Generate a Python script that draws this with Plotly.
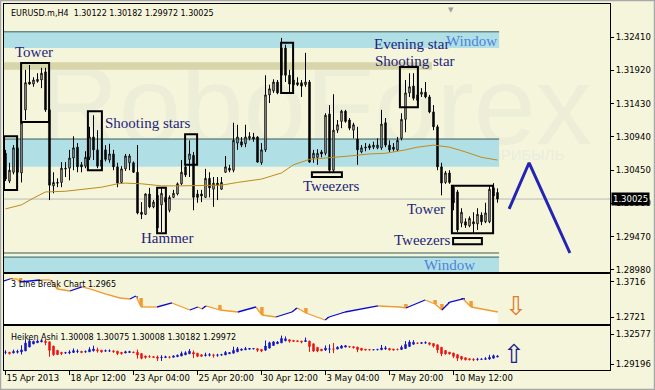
import plotly.graph_objects as go

# ---------------- data ----------------
bar_open = [1.3070, 1.3029, 1.3042, 1.3078, 1.3041, 1.3134, 1.3175, 1.3172, 1.3176, 1.3178,
            1.3190, 1.3134, 1.3022, 1.3027, 1.3027, 1.3048, 1.3048, 1.3063, 1.3079, 1.3053,
            1.3051, 1.3064, 1.3094, 1.3075, 1.3051, 1.3075, 1.3060, 1.3069, 1.3050, 1.3027,
            1.3047, 1.3056, 1.3056, 1.3042, 1.2983, 1.2980, 1.3010, 1.2991, 1.3008, 1.2994,
            1.3005, 1.2986, 1.3005, 1.3010, 1.3025, 1.3050, 1.3061, 1.3067, 1.3010, 1.3010,
            1.3005, 1.3033, 1.3017, 1.3026, 1.3017, 1.3042, 1.3048, 1.3045, 1.3085, 1.3087,
            1.3084, 1.3092, 1.3094, 1.3094, 1.3056, 1.3075, 1.3156, 1.3162, 1.3175, 1.3185,
            1.3225, 1.3185, 1.3178, 1.3174, 1.3174, 1.3171, 1.3175, 1.3063, 1.3064, 1.3072,
            1.3070, 1.3128, 1.3045, 1.3104, 1.3117, 1.3132, 1.3119, 1.3104, 1.3091, 1.3072,
            1.3079, 1.3081, 1.3079, 1.3078, 1.3078, 1.3115, 1.3082, 1.3079, 1.3075, 1.3092,
            1.3120, 1.3159, 1.3169, 1.3156, 1.3157, 1.3160, 1.3153, 1.3131, 1.3109, 1.3050,
            1.3027, 1.3041, 1.3020, 1.3013, 1.2967, 1.2969, 1.2963, 1.2969, 1.2966, 1.2979,
            1.2969, 1.2969, 1.3019, 1.30122]
bar_high = [1.3075, 1.3056, 1.3082, 1.3081, 1.3131, 1.3193, 1.3200, 1.3182, 1.3188, 1.3196,
            1.3196, 1.3137, 1.3042, 1.3033, 1.3057, 1.3057, 1.3075, 1.3095, 1.3085, 1.3057,
            1.3073, 1.3109, 1.3126, 1.3104, 1.3067, 1.3082, 1.3084, 1.3075, 1.3056, 1.3051,
            1.3069, 1.3069, 1.3058, 1.3082, 1.2998, 1.3011, 1.3019, 1.3001, 1.3016, 1.3019,
            1.3013, 1.3008, 1.3016, 1.3027, 1.3060, 1.3063, 1.3089, 1.3072, 1.3016, 1.3016,
            1.3047, 1.3042, 1.3035, 1.3035, 1.3035, 1.3066, 1.3053, 1.3115, 1.3112, 1.3094,
            1.3112, 1.3101, 1.3100, 1.3095, 1.3085, 1.3185, 1.3171, 1.3179, 1.3178, 1.3240,
            1.3230, 1.3193, 1.3188, 1.3182, 1.3178, 1.3218, 1.3178, 1.3075, 1.3076, 1.3075,
            1.3129, 1.3141, 1.3157, 1.3119, 1.3134, 1.3134, 1.3122, 1.3115, 1.3109, 1.3082,
            1.3085, 1.3084, 1.3087, 1.3092, 1.3134, 1.3122, 1.3089, 1.3085, 1.3094, 1.3129,
            1.3178, 1.3188, 1.3188, 1.3163, 1.3166, 1.3175, 1.3156, 1.3141, 1.3112, 1.3056,
            1.3044, 1.3045, 1.3023, 1.3016, 1.2989, 1.2974, 1.2977, 1.2983, 1.2989, 1.2983,
            1.2997, 1.3023, 1.3026, 1.30182]
bar_low = [1.3029, 1.3026, 1.3039, 1.3038, 1.3027, 1.3119, 1.3171, 1.3168, 1.3174, 1.3166,
           1.3131, 1.3001, 1.3011, 1.3020, 1.3020, 1.3035, 1.3030, 1.3045, 1.3042, 1.3042,
           1.3048, 1.3060, 1.3060, 1.3048, 1.3048, 1.3058, 1.3056, 1.3045, 1.3020, 1.3025,
           1.3044, 1.3045, 1.3041, 1.2980, 1.2973, 1.2979, 1.2989, 1.2989, 1.2954, 1.2954,
           1.2986, 1.2983, 1.3004, 1.3008, 1.3023, 1.3035, 1.3035, 1.2986, 1.2997, 1.2998,
           1.3004, 1.3005, 1.2991, 1.3001, 1.3016, 1.3041, 1.3042, 1.3042, 1.3075, 1.3079,
           1.3079, 1.3089, 1.3087, 1.3056, 1.3053, 1.3072, 1.3144, 1.3159, 1.3157, 1.3181,
           1.3175, 1.3160, 1.3168, 1.3169, 1.3153, 1.3168, 1.3056, 1.3056, 1.3053, 1.3064,
           1.3067, 1.3042, 1.3042, 1.3100, 1.3107, 1.3115, 1.3104, 1.3092, 1.3053, 1.3070,
           1.3073, 1.3075, 1.3076, 1.3076, 1.3075, 1.3079, 1.3072, 1.3073, 1.3073, 1.3089,
           1.3101, 1.3153, 1.3148, 1.3145, 1.3153, 1.3151, 1.3129, 1.3104, 1.3045, 1.3008,
           1.3025, 1.3025, 1.2986, 1.2954, 1.2961, 1.2960, 1.2961, 1.2952, 1.2957, 1.2964,
           1.2967, 1.2967, 1.3001, 1.29972]
bar_close = [1.3032, 1.3045, 1.3078, 1.3042, 1.3115, 1.3174, 1.3172, 1.3178, 1.3179, 1.3188,
             1.3134, 1.3023, 1.3027, 1.3026, 1.3048, 1.3047, 1.3063, 1.3078, 1.3050, 1.3050,
             1.3064, 1.3094, 1.3075, 1.3051, 1.3060, 1.3061, 1.3069, 1.3050, 1.3026, 1.3047,
             1.3066, 1.3066, 1.3042, 1.2982, 1.2980, 1.3010, 1.2991, 1.2998, 1.2960, 1.3011,
             1.2998, 1.3005, 1.3011, 1.3025, 1.3042, 1.3038, 1.3069, 1.3005, 1.3005, 1.3007,
             1.3033, 1.3019, 1.3026, 1.3023, 1.3027, 1.3050, 1.3045, 1.3089, 1.3094, 1.3082,
             1.3094, 1.3095, 1.3091, 1.3057, 1.3075, 1.3156, 1.3165, 1.3175, 1.3159, 1.3225,
             1.3185, 1.3172, 1.3171, 1.3171, 1.3169, 1.3175, 1.3057, 1.3070, 1.3070, 1.3069,
             1.3126, 1.3045, 1.3104, 1.3112, 1.3132, 1.3117, 1.3107, 1.3112, 1.3075, 1.3078,
             1.3078, 1.3078, 1.3082, 1.3082, 1.3113, 1.3082, 1.3075, 1.3076, 1.3089, 1.3120,
             1.3159, 1.3168, 1.3151, 1.3148, 1.3160, 1.3153, 1.3131, 1.3109, 1.3050, 1.3026,
             1.3041, 1.3027, 1.2997, 1.2957, 1.2983, 1.2964, 1.2974, 1.2966, 1.2980, 1.2969,
             1.2982, 1.3017, 1.3007, 1.30025]
bars = list(range(len(bar_open)))

# moving average (orange line)
ma_bar = [0, 4, 7, 10, 15, 20, 24, 28, 30, 34, 39, 44, 49, 54, 58, 64, 69, 72, 76, 81,
          86, 91, 95, 100, 103, 107, 111, 115, 119, 123]
ma_val = [1.2988, 1.2994, 1.3004, 1.3013, 1.3014, 1.3017, 1.3020, 1.3025, 1.3026, 1.3025,
          1.3022, 1.3022, 1.3023, 1.3023, 1.3027, 1.3032, 1.3041, 1.3053, 1.3061, 1.3063,
          1.3066, 1.3069, 1.3070, 1.3075, 1.3079, 1.3082, 1.3079, 1.3072, 1.3064, 1.3060]

# 3 Line Break panel
lb_bar = [-0.4, 1.1, 2.9, 3.6, 6.1, 8.6, 11.1, 12.9, 16.1, 19.1, 21.1, 24.9, 28.6, 31.1,
          32.6, 33.9, 37.9, 41.6, 46.1, 48.1, 49.1, 50.1, 53.6, 58.1, 62.6, 64.1, 67.6,
          71.6, 72.9, 75.1, 79.9, 80.9, 84.9, 93.1, 98.6, 100.1, 104.9, 107.4, 109.1,
          111.1, 114.4, 116.4, 123.1]
lb_val = [1.3744, 1.3801, 1.3801, 1.3716, 1.3744, 1.3773, 1.3773, 1.3517, 1.3460, 1.3574,
          1.3517, 1.3375, 1.3261, 1.3233, 1.3318, 1.3005, 1.3005, 1.3119, 1.2920, 1.3005,
          1.2948, 1.3034, 1.2920, 1.2863, 1.3005, 1.2778, 1.2721, 1.2863, 1.2977, 1.2835,
          1.2636, 1.2721, 1.2863, 1.3034, 1.3005, 1.2977, 1.3204, 1.3091, 1.2920, 1.3147,
          1.3233, 1.3005, 1.2863]
brick_bar = [1.5, 3.8, 11.3, 12.8, 32.6, 33.9, 48.1, 50.1, 53.6, 64.1, 72.9, 75.1, 80.9,
             84.6, 100.1, 107.4, 109.1, 111.1, 114.4, 116.4]
brick_lo = [1.3744, 1.3716, 1.3716, 1.3489, 1.3233, 1.3005, 1.2948, 1.2977, 1.2920, 1.2778,
            1.2892, 1.2835, 1.2664, 1.2778, 1.2977, 1.3091, 1.2920, 1.2892, 1.3204, 1.3005]
brick_hi = [1.3830, 1.3830, 1.3773, 1.3574, 1.3318, 1.3261, 1.3005, 1.3034, 1.3062, 1.3005,
            1.2977, 1.2977, 1.2721, 1.2863, 1.3091, 1.3204, 1.3091, 1.3147, 1.3261, 1.3176]
brick_up = [1, 0, 1, 0, 1, 0, 1, 1, 0, 0, 1, 0, 1, 1, 0, 0, 0, 1, 1, 0]

# forecast zigzag
fc_bar = [125.9, 130.9, 141.1]
fc_val = [1.2988, 1.3056, 1.2923]

# levels / bands
window_top = (1.3225, 1.3249)
resist_band = (1.3050, 1.3091)
khaki_band = (1.3193, 1.3204)
window_low_line = 1.2923
window_low_band = (1.2895, 1.2917)
last_price = 1.30025

# pattern boxes (bar0, bar1, price0, price1)
pattern_boxes = [
    (-0.375, 2.9, 1.3016, 1.3095),
    (3.9, 10.9, 1.3116, 1.3203),
    (20.6, 24.1, 1.3045, 1.3132),
    (37.9, 40.1, 1.2952, 1.3019),
    (44.9, 47.9, 1.3053, 1.3098),
    (68.9, 71.9, 1.3159, 1.3233),
    (76.6, 84.1, 1.3035, 1.3042),
    (98.6, 103.1, 1.3138, 1.3197),
    (111.6, 121.9, 1.2952, 1.3022),
    (111.9, 119.1, 1.2936, 1.2945),
]
pattern_labels = [
    ("Tower", 1.9, 1.3219), ("Shooting stars", 24.4, 1.3115), ("Hammer", 33.4, 1.2945),
    ("Tweezers", 73.9, 1.3022), ("Evening star", 91.6, 1.3231), ("Shooting star", 91.9, 1.3206),
    ("Tower", 99.9, 1.2988), ("Tweezers", 96.6, 1.2942),
]
window_labels = [("Window", 109.6, 1.3235), ("Window", 104.1, 1.2905)]

tick_bars = [0, 16, 32, 48, 64, 80, 96, 112]
tick_labels = ["15 Apr 2013", "18 Apr 12:00", "23 Apr 04:00", "25 Apr 20:00",
               "30 Apr 12:00", "3 May 04:00", "7 May 20:00", "10 May 12:00"]
price_ticks = [1.28980, 1.29470, 1.29960, 1.30450, 1.30940, 1.31430, 1.31920, 1.32410]
lb_ticks = [1.2721, 1.3716]
ha_ticks = [1.29196, 1.32577]

title_main = "EURUSD.m,H4  1.30122 1.30182 1.29972 1.30025"
title_lb = "3 Line Break Chart 1.2965"
title_ha = "Heiken Ashi 1.30008 1.30075 1.30008 1.30182 1.29972"

# ---------------- heiken ashi from the candles ----------------
ha_close = [(o + h + l + c) / 4 for o, h, l, c in zip(bar_open, bar_high, bar_low, bar_close)]
ha_open = []
for i in range(len(bars)):
    if i == 0:
        ha_open.append((bar_open[0] + bar_close[0]) / 2)
    else:
        ha_open.append((ha_open[-1] + ha_close[i - 1]) / 2)
ha_high = [max(h, o, c) for h, o, c in zip(bar_high, ha_open, ha_close)]
ha_low = [min(l, o, c) for l, o, c in zip(bar_low, ha_open, ha_close)]

# ---------------- geometry ----------------
W, H = 655, 390
ML, MR, MT, MB = 4, 45, 4, 20
PW, PH = W - ML - MR, H - MT - MB
BOT = MT + PH


def py(p):  # pixel row -> paper y
    return (BOT - p) / PH


def px(p):  # pixel column -> paper x
    return (p - ML) / PW


X_RANGE = [-0.375, 151.125]
MAIN_R = [1.2895, 1.3290]
LB_R = [1.2522, 1.3943]
HA_R = [1.2852, 1.3348]

BG = "#F5F5DC"
AX_FONT = dict(family="DejaVu Sans", size=8.5, color="black")
TXT_FONT = dict(family="DejaVu Sans", size=8, color="black")
PAT_FONT = dict(family="Liberation Serif", size=15, color="#1F1F7A")
WIN_FONT = dict(family="Liberation Serif", size=15, color="#4F80D8")
BLUE_LB, ORANGE_LB = "#0A0ACC", "#F29A2E"

fig = go.Figure()

# main candles
fig.add_trace(go.Candlestick(
    x=bars, open=bar_open, high=bar_high, low=bar_low, close=bar_close,
    xaxis="x", yaxis="y", whiskerwidth=0,
    increasing=dict(line=dict(color="black", width=1), fillcolor="white"),
    decreasing=dict(line=dict(color="black", width=1), fillcolor="black"),
    hoverinfo="skip"))
fig.add_trace(go.Scatter(x=ma_bar, y=ma_val, mode="lines", xaxis="x", yaxis="y",
                         line=dict(color="#C08A1A", width=1), hoverinfo="skip"))
fig.add_trace(go.Scatter(x=fc_bar, y=fc_val, mode="lines", xaxis="x", yaxis="y",
                         line=dict(color="#2323B4", width=3), hoverinfo="skip"))

# line break panel
fig.add_trace(go.Scatter(x=lb_bar, y=lb_val, mode="lines", fill="tozeroy", fillcolor="white",
                         line=dict(width=0, color="white"), xaxis="x2", yaxis="y2", hoverinfo="skip"))
up_x, up_y, dn_x, dn_y = [], [], [], []
for i in range(1, len(lb_bar)):
    seg_x = [lb_bar[i - 1], lb_bar[i], None]
    seg_y = [lb_val[i - 1], lb_val[i], None]
    if lb_val[i] > lb_val[i - 1]:
        up_x += seg_x; up_y += seg_y
    else:
        dn_x += seg_x; dn_y += seg_y
fig.add_trace(go.Scatter(x=dn_x, y=dn_y, mode="lines", line=dict(color=ORANGE_LB, width=1.3),
                         xaxis="x2", yaxis="y2", hoverinfo="skip"))
fig.add_trace(go.Scatter(x=up_x, y=up_y, mode="lines", line=dict(color=BLUE_LB, width=1.3),
                         xaxis="x2", yaxis="y2", hoverinfo="skip"))
fig.add_trace(go.Bar(x=brick_bar, y=[h - l for h, l in zip(brick_hi, brick_lo)], base=brick_lo,
                     width=0.85, marker=dict(color=[BLUE_LB if u else ORANGE_LB for u in brick_up],
                                             line=dict(width=0)),
                     xaxis="x2", yaxis="y2", hoverinfo="skip"))

# heiken ashi panel
fig.add_trace(go.Candlestick(
    x=bars, open=ha_open, high=ha_high, low=ha_low, close=ha_close,
    xaxis="x3", yaxis="y3", whiskerwidth=0,
    increasing=dict(line=dict(color="#1414C8", width=1), fillcolor="#1414C8"),
    decreasing=dict(line=dict(color="#F01010", width=1), fillcolor="#F01010"),
    hoverinfo="skip"))

shapes = []
XE = 123.4
def band(y0, y1, x1, color):
    shapes.append(dict(type="rect", xref="x", yref="y", x0=X_RANGE[0], x1=x1, y0=y0, y1=y1,
                       fillcolor=color, line=dict(width=0), layer="below"))

def hline(y, x1, color, width=1):
    shapes.append(dict(type="line", xref="x", yref="y", x0=X_RANGE[0], x1=x1, y0=y, y1=y,
                       line=dict(color=color, width=width), layer="below"))

band(*window_top, XE, "#B0E0E6")
band(*resist_band, XE, "#B0E0E6")
band(*window_low_band, XE, "#B0E0E6")
band(*khaki_band, 106.6, "#D9D5AA")
hline(window_top[1], XE, "#355E5E")
hline(resist_band[1], XE, "#355E5E")
hline(window_low_line, XE, "#355E5E")
hline(window_low_band[1], XE, "#355E5E")
hline(last_price, X_RANGE[1], "#B8B8B8")

# watermark
shapes.append(dict(type="rect", xref="paper", yref="paper", x0=px(60), x1=px(570),
                   y0=py(140), y1=py(48), line=dict(width=0), fillcolor="rgba(0,0,0,0)",
                   layer="below",
                   label=dict(text="RoboForex", textposition="middle center",
                              font=dict(family="Liberation Sans", size=112,
                                        color="rgba(224,226,208,0.35)"))))
shapes.append(dict(type="rect", xref="paper", yref="paper", x0=px(300), x1=px(588),
                   y0=py(160), y1=py(146), line=dict(width=0), fillcolor="rgba(0,0,0,0)",
                   layer="below",
                   label=dict(text="РОБОТОВ – ПОЛУЧАЙ ПРИБЫЛЬ", textposition="middle center",
                              font=dict(family="Liberation Sans", size=15,
                                        color="rgba(222,230,220,0.5)"))))

for x0, x1, y0, y1 in pattern_boxes:
    shapes.append(dict(type="rect", xref="x", yref="y", x0=x0, x1=x1, y0=y0, y1=y1,
                       line=dict(color="black", width=2), fillcolor="rgba(0,0,0,0)", layer="above"))

# outer frame
shapes.append(dict(type="rect", xref="paper", yref="paper", x0=px(0.5), x1=px(W - 0.5),
                   y0=py(H - 0.5), y1=py(0.5), line=dict(color="#A8A8A8", width=1.5),
                   fillcolor="rgba(0,0,0,0)", layer="above"))

ann = []
for t, xb, yv in pattern_labels:
    ann.append(dict(text=t, x=xb, y=yv, xref="x", yref="y", xanchor="left", yanchor="middle",
                    showarrow=False, font=PAT_FONT))
for t, xb, yv in window_labels:
    ann.append(dict(text=t, x=xb, y=yv, xref="x", yref="y", xanchor="left", yanchor="middle",
                    showarrow=False, font=WIN_FONT))
ann.append(dict(text=title_main, x=px(9), y=py(13.5), xref="paper", yref="paper",
                xanchor="left", yanchor="middle", showarrow=False, font=TXT_FONT))
ann.append(dict(text=title_lb, x=px(9), y=py(284.5), xref="paper", yref="paper",
                xanchor="left", yanchor="middle", showarrow=False, font=TXT_FONT))
ann.append(dict(text=title_ha, x=px(9), y=py(337), xref="paper", yref="paper",
                xanchor="left", yanchor="middle", showarrow=False, font=TXT_FONT))
ann.append(dict(text="1.30025", x=1, xshift=1, y=last_price, xref="paper", yref="y",
                xanchor="left", yanchor="middle", showarrow=False, bgcolor="black",
                borderpad=1, font=dict(family="DejaVu Sans", size=8.5, color="white")))
ann.append(dict(text="⇩", x=127.6, y=1.3034, xref="x2", yref="y2", showarrow=False,
                font=dict(family="DejaVu Sans", size=26, color="#E07B30")))
ann.append(dict(text="⇧", x=127.1, y=1.3032, xref="x3", yref="y3", showarrow=False,
                font=dict(family="DejaVu Sans", size=26, color="#1A1A8C")))
ann.append(dict(text="▼", x=111.4, y=1, xref="x", yref="paper", yanchor="top", showarrow=False,
                font=dict(family="DejaVu Sans", size=7, color="#A0A0A0")))

common_x = dict(range=X_RANGE, showgrid=False, zeroline=False, showline=True, mirror=True,
                linecolor="black", linewidth=1, fixedrange=True, rangeslider=dict(visible=False))
common_y = dict(side="right", showgrid=False, zeroline=False, showline=True, mirror=True,
                linecolor="black", linewidth=1, ticks="outside", ticklen=3, tickcolor="black",
                tickfont=AX_FONT, fixedrange=True)

fig.update_layout(
    width=W, height=H, margin=dict(l=ML, r=MR, t=MT, b=MB),
    paper_bgcolor=BG, plot_bgcolor=BG, showlegend=False, hovermode=False,
    boxgap=0.5, barmode="overlay",
    xaxis=dict(common_x, anchor="y", showticklabels=False, ticks=""),
    xaxis2=dict(common_x, anchor="y2", showticklabels=False, ticks="", matches="x"),
    xaxis3=dict(common_x, anchor="y3", matches="x", tickvals=tick_bars, ticktext=tick_labels,
                ticks="outside", ticklen=4, tickcolor="black", tickfont=AX_FONT,
                ticklabelposition="outside right", tickangle=0),
    yaxis=dict(common_y, domain=[py(272), py(MT)], range=MAIN_R, tickvals=price_ticks,
               ticktext=[f"{v:.5f}" for v in price_ticks]),
    yaxis2=dict(common_y, domain=[py(324), py(274)], range=LB_R, tickvals=lb_ticks,
                ticktext=[f"{v:.4f}" for v in lb_ticks]),
    yaxis3=dict(common_y, domain=[py(BOT), py(326)], range=HA_R, tickvals=ha_ticks,
                ticktext=[f"{v:.5f}" for v in ha_ticks]),
    shapes=shapes, annotations=ann,
)

fig.write_html("out.html", config={"displayModeBar": False, "staticPlot": True})
with open("out.html", encoding="utf-8") as f:
    page = f.read()
page = page.replace("<head>", "<head><style>html,body{margin:0;padding:0;overflow:hidden;}</style>", 1)
with open("out.html", "w", encoding="utf-8") as f:
    f.write(page)
